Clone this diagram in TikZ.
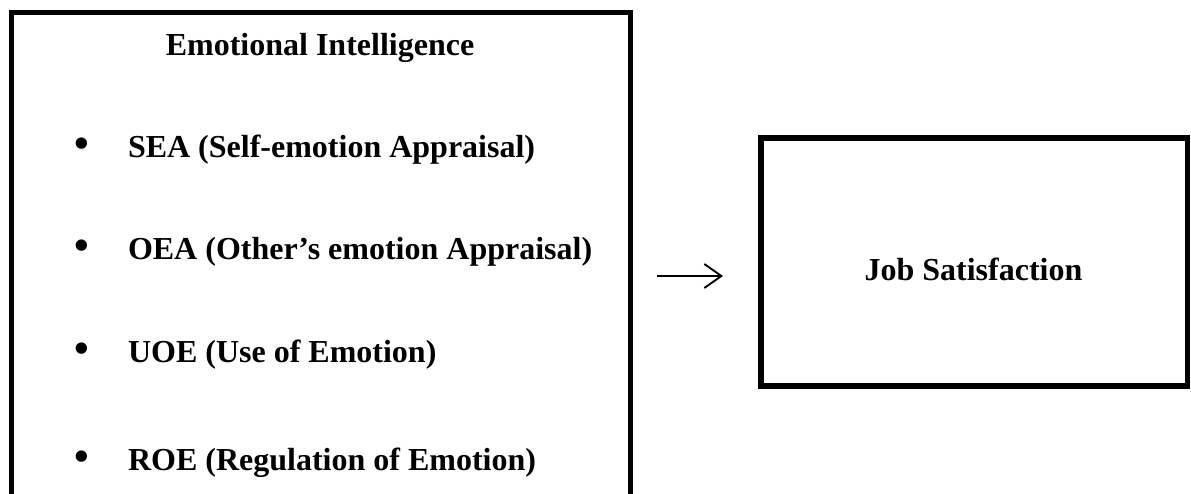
\documentclass[tikz,border=0pt]{standalone}
\usepackage{fontspec}
\setmainfont{Liberation Serif}
\usetikzlibrary{arrows.meta}
\begin{document}
\begin{tikzpicture}[x=1pt,y=-1pt,
  frame/.style={draw=black,line width=5pt,inner sep=0pt,outer sep=0pt,fill=none},
  txt/.style={inner sep=0pt,outer sep=0pt,font=\fontsize{32}{38}\selectfont\bfseries},
  bul/.style={inner sep=0pt,outer sep=0pt,font=\fontsize{42}{48}\selectfont\bfseries},
  arr/.style={line width=1.9pt,-{Straight Barb[length=17pt,width=24pt]}}]
\useasboundingbox (0,0) rectangle (1191,493);
\clip (0,0) rectangle (1191,493);
\fill[white] (0,0) rectangle (1191,493);
% left box (bottom edge lies outside the picture)
\node[frame,minimum width=619.5pt,minimum height=520pt] (ei) at (320.75,272.5) {};
\node[txt,anchor=base] (title) at (320,55) {Emotional Intelligence};
\node[bul,anchor=base] (b1) at (82,157) {\textbullet};
\node[txt,anchor=base west] (sea) at (128,157) {SEA (Self-emotion Appraisal)};
\node[bul,anchor=base] (b2) at (82,259) {\textbullet};
\node[txt,anchor=base west] (oea) at (128,259) {OEA (Other’s emotion Appraisal)};
\node[bul,anchor=base] (b3) at (82,362) {\textbullet};
\node[txt,anchor=base west] (uoe) at (128,362) {UOE (Use of Emotion)};
\node[bul,anchor=base] (b4) at (82,470) {\textbullet};
\node[txt,anchor=base west] (roe) at (128,470) {ROE (Regulation of Emotion)};
% right box
\node[frame,line width=5.5pt,minimum width=426.5pt,minimum height=248pt] (js) at (974.25,262) {};
\node[txt,anchor=base] (jst) at (973.5,280) {Job Satisfaction};
% arrow
\coordinate (a1) at (657,276);
\coordinate (a2) at (723,276);
\draw[arr] (a1) -- (a2);
\end{tikzpicture}
\end{document}
